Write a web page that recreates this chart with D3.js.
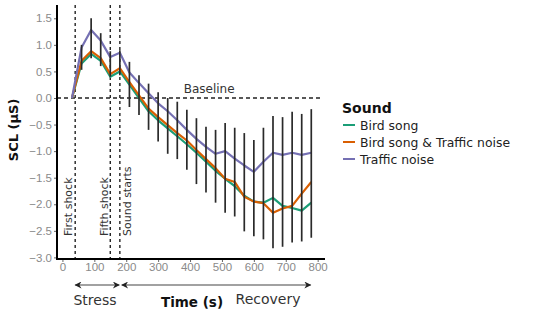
<!DOCTYPE html>
<html>
<head>
<meta charset="utf-8">
<script src="https://cdn.jsdelivr.net/npm/d3@7"></script>
<style>
  body { margin: 0; background: #fff; }
  svg { display: block; }
</style>
</head>
<body>
<div id="chart"></div>
<script>
  const W = 550;
  const H = 320;

  // -----------------------------
  // Data
  // -----------------------------
  const times = [30, 60, 90, 120, 150, 180, 210, 240, 270, 300, 330, 360, 390,
                 420, 450, 480, 510, 540, 570, 600, 630, 660, 690, 720, 750, 780];

  const birdSong = [0, 0.65, 0.83, 0.70, 0.40, 0.50, 0.25, 0.00, -0.25, -0.42, -0.57, -0.72, -0.87,
                    -1.03, -1.20, -1.37, -1.52, -1.66, -1.84, -1.95, -1.97, -1.88, -2.03, -2.07, -2.12, -1.97];
  const birdTraffic = [0, 0.70, 0.88, 0.75, 0.45, 0.56, 0.30, 0.05, -0.20, -0.36, -0.51, -0.66, -0.80,
                       -0.98, -1.15, -1.32, -1.52, -1.58, -1.86, -1.95, -1.98, -2.16, -2.08, -2.03, -1.80, -1.58];
  const trafficNoise = [0, 0.95, 1.28, 1.08, 0.77, 0.85, 0.48, 0.28, 0.09, -0.10, -0.25, -0.42, -0.60,
                        -0.77, -0.92, -1.05, -1.00, -1.14, -1.27, -1.39, -1.20, -1.03, -1.07, -1.03, -1.07, -1.03];

  const errHigh = [null, 1.00, 1.50, 1.22, 0.88, 0.90, 0.68, 0.43, 0.27, 0.11, 0.00, -0.07, -0.22,
                   -0.38, -0.54, -0.60, -0.47, -0.56, -0.66, -0.79, -0.56, -0.34, -0.36, -0.26, -0.30, -0.21];
  const errLow = [null, 0.53, 0.75, 0.60, 0.40, 0.43, -0.17, -0.32, -0.60, -0.82, -1.05, -1.15, -1.35,
                  -1.62, -1.78, -1.97, -2.16, -2.23, -2.51, -2.60, -2.66, -2.83, -2.80, -2.72, -2.70, -2.63];

  const seriesNames = ["Bird song", "Bird song & Traffic noise", "Traffic noise"];
  const seriesValues = [birdSong, birdTraffic, trafficNoise];
  const seriesColors = ["#1b9e77", "#d95f02", "#7570b3"];

  const eventTimes = [40, 150, 180];
  const eventLabels = ["First shock", "Fifth shock", "Sound starts"];

  const xTicks = [0, 100, 200, 300, 400, 500, 600, 700, 800];
  const yTicks = [1.5, 1.0, 0.5, 0.0, -0.5, -1.0, -1.5, -2.0, -2.5, -3.0];

  // -----------------------------
  // Scales
  // -----------------------------
  const x = d3.scaleLinear().domain([-17, 823]).range([57, 325]);
  const y = d3.scaleLinear().domain([-3.03, 1.75]).range([259, 5]);

  const svg = d3.select("#chart").append("svg")
    .attr("width", W).attr("height", H)
    .attr("viewBox", [0, 0, W, H]);

  const tickFont = "'Liberation Sans', Arial, sans-serif";
  const textFont = "'DejaVu Sans', Verdana, sans-serif";

  // baseline
  svg.append("line")
    .attr("x1", x(-17)).attr("x2", 323)
    .attr("y1", y(0)).attr("y2", y(0))
    .attr("stroke", "#222").attr("stroke-width", 1.3)
    .attr("stroke-dasharray", "4,3");

  svg.append("text")
    .attr("x", x(380)).attr("y", y(0) - 5)
    .attr("font-family", textFont).attr("font-size", 12)
    .attr("fill", "#333")
    .text("Baseline");

  // event lines + labels
  svg.append("g").selectAll("line")
    .data(eventTimes)
    .join("line")
    .attr("x1", d => x(d)).attr("x2", d => x(d))
    .attr("y1", 5).attr("y2", 259)
    .attr("stroke", "#222").attr("stroke-width", 1.4)
    .attr("stroke-dasharray", "3,3");

  const labelOffsets = [-3, -2, 11];
  svg.append("g").selectAll("text")
    .data(eventTimes)
    .join("text")
    .attr("transform", (d, i) => `translate(${x(d) + labelOffsets[i]},236) rotate(-90)`)
    .attr("font-family", textFont).attr("font-size", 11)
    .attr("fill", "#333")
    .text((d, i) => eventLabels[i]);

  // lines
  const line = d3.line()
    .x((d, i) => x(times[i]))
    .y(d => y(d));

  svg.append("g").selectAll("path")
    .data(seriesValues)
    .join("path")
    .attr("d", d => line(d))
    .attr("fill", "none")
    .attr("stroke", (d, i) => seriesColors[i])
    .attr("stroke-width", 2.2)
    .attr("stroke-linejoin", "round");

  // error bars
  const barIdx = times.map((t, i) => i).filter(i => errLow[i] !== null);
  svg.append("g").selectAll("line")
    .data(barIdx)
    .join("line")
    .attr("x1", i => x(times[i])).attr("x2", i => x(times[i]))
    .attr("y1", i => y(errHigh[i])).attr("y2", i => y(errLow[i]))
    .attr("stroke", "#2a2a2a").attr("stroke-width", 1.7);

  // axes
  const yAxis = svg.append("g")
    .attr("transform", `translate(${x(-17)},0)`)
    .call(d3.axisLeft(y).tickValues(yTicks).tickFormat(d3.format(".1f")).tickSize(3).tickPadding(2));
  const xAxis = svg.append("g")
    .attr("transform", `translate(0,${y(-3.03)})`)
    .call(d3.axisBottom(x).tickValues(xTicks).tickSize(3).tickPadding(1));

  [yAxis, xAxis].forEach(g => {
    g.select(".domain").remove();
    g.selectAll(".tick line").attr("stroke", "#666");
    g.selectAll(".tick text")
      .attr("font-family", tickFont).attr("font-size", 11.5)
      .attr("fill", "#8a8a8a");
  });

  svg.append("line")
    .attr("x1", x(-17)).attr("x2", x(-17))
    .attr("y1", 5).attr("y2", y(-3.03))
    .attr("stroke", "#000").attr("stroke-width", 2);
  svg.append("line")
    .attr("x1", x(-17) - 1).attr("x2", x(823))
    .attr("y1", y(-3.03)).attr("y2", y(-3.03))
    .attr("stroke", "#000").attr("stroke-width", 2);

  // y title
  svg.append("text")
    .attr("transform", `translate(18,${y(-0.6)}) rotate(-90)`)
    .attr("text-anchor", "middle")
    .attr("font-family", textFont).attr("font-size", 13).attr("font-weight", "bold")
    .attr("fill", "#111")
    .text("SCL (µS)");

  // bottom phase arrows
  const defs = svg.append("defs");
  defs.append("marker")
    .attr("id", "ah").attr("viewBox", "0 0 10 10")
    .attr("refX", 9).attr("refY", 5)
    .attr("markerWidth", 9).attr("markerHeight", 7)
    .attr("markerUnits", "userSpaceOnUse")
    .attr("orient", "auto-start-reverse")
    .append("path").attr("d", "M0,0 L10,5 L0,10 L3,5 Z").attr("fill", "#222");

  const arrowY = 285;
  const phases = [[40, 178], [186, 778]];
  svg.append("g").selectAll("line")
    .data(phases)
    .join("line")
    .attr("x1", d => x(d[0])).attr("x2", d => x(d[1]))
    .attr("y1", arrowY).attr("y2", arrowY)
    .attr("stroke", "#444").attr("stroke-width", 1.2)
    .attr("marker-start", "url(#ah)").attr("marker-end", "url(#ah)");

  svg.append("text")
    .attr("x", 95).attr("y", 305)
    .attr("text-anchor", "middle")
    .attr("font-family", textFont).attr("font-size", 14)
    .attr("fill", "#333")
    .text("Stress");
  svg.append("text")
    .attr("x", 192).attr("y", 307)
    .attr("text-anchor", "middle")
    .attr("font-family", textFont).attr("font-size", 13.5).attr("font-weight", "bold")
    .attr("fill", "#111")
    .text("Time (s)");
  svg.append("text")
    .attr("x", 268).attr("y", 304)
    .attr("text-anchor", "middle")
    .attr("font-family", textFont).attr("font-size", 14)
    .attr("fill", "#333")
    .text("Recovery");

  // legend
  const legend = svg.append("g").attr("transform", "translate(340,0)");
  legend.append("text")
    .attr("x", 2).attr("y", 113)
    .attr("font-family", textFont).attr("font-size", 14).attr("font-weight", "bold")
    .attr("fill", "#111")
    .text("Sound");
  const items = legend.selectAll("g.item")
    .data(seriesNames)
    .join("g")
    .attr("class", "item")
    .attr("transform", (d, i) => `translate(0,${125 + i * 17})`);
  items.append("line")
    .attr("x1", 3).attr("x2", 15)
    .attr("stroke", (d, i) => seriesColors[i])
    .attr("stroke-width", 2);
  items.append("text")
    .attr("x", 20).attr("y", 4.5)
    .attr("font-family", textFont).attr("font-size", 12.4)
    .attr("fill", "#222")
    .text(d => d);
</script>
</body>
</html>
